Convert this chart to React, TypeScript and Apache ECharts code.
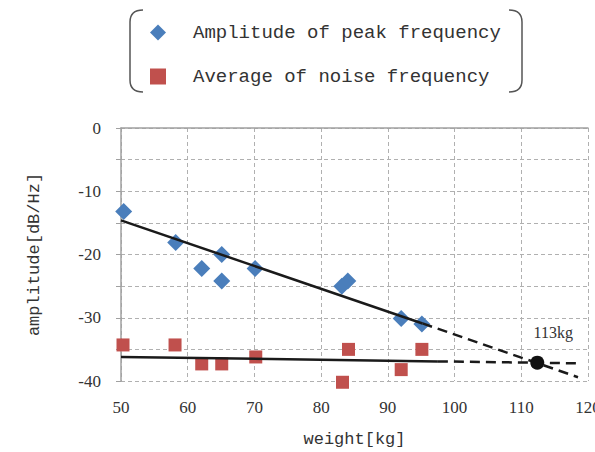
import React, { useEffect, useRef } from "react";
import * as echarts from "echarts";

const peakData: number[][] = [
  [50.4, -13.2], [58.2, -18.1], [62.1, -22.2], [65.1, -20.0], [65.1, -24.2],
  [70.1, -22.2], [83.1, -25.0], [84.0, -24.2], [92.0, -30.1], [95.1, -31.0],
];
const noiseData: number[][] = [
  [50.3, -34.3], [58.1, -34.3], [62.1, -37.3], [65.1, -37.3], [70.2, -36.2],
  [84.1, -35.0], [83.2, -40.2], [92.0, -38.2], [95.1, -35.0],
];
const peakTrendSolid: number[][] = [[50, -14.6], [95.2, -30.9]];
const peakTrendDashed: number[][] = [[95.2, -30.9], [118.5, -39.4]];
const noiseTrendSolid: number[][] = [[50, -36.2], [97.5, -36.9]];
const noiseTrendDashed: number[][] = [[97.5, -36.9], [118.4, -37.2]];
const crossPoint: number[][] = [[112.4, -37.1]];
const crossLabel = "113kg";
const seriesNames = ["Amplitude of peak frequency", "Average of noise frequency"];

echarts.graphic.registerShape(
  "brkL",
  echarts.graphic.extendPath("M13,0 Q0,0 0,12 L0,70 Q0,82 13,82", {})
);
echarts.graphic.registerShape(
  "brkR",
  echarts.graphic.extendPath("M0,0 Q13,0 13,12 L13,70 Q13,82 0,82", {})
);

export default function App() {
  const ref = useRef<HTMLDivElement>(null);
  useEffect(() => {
    document.body.style.margin = "0";
    const chart = echarts.init(ref.current!, null, { renderer: "svg" });
    const mono = "'Liberation Mono', 'Courier New', monospace";
    const serif = "'Liberation Serif', 'Times New Roman', serif";
    const trendStyle = { color: "#1a1a1a", width: 2.5 };
    chart.setOption({
      animation: false,
      backgroundColor: "#ffffff",
      grid: { left: 121, right: 7, top: 128, bottom: 71, outerBoundsMode: "none", containLabel: false },
      legend: {
        orient: "vertical",
        left: 145,
        top: 18,
        itemWidth: 16,
        itemHeight: 16,
        itemGap: 25,
        data: [
          { name: seriesNames[0], icon: "diamond" },
          { name: seriesNames[1], icon: "rect" },
        ],
        textStyle: {
          fontFamily: mono,
          fontSize: 19,
          color: "#333",
          padding: [0, 0, 0, 22],
        },
      },
      graphic: [
        { type: "brkL", x: 130, y: 10, style: { fill: "none", stroke: "#555", lineWidth: 1.5 } },
        { type: "brkR", x: 509, y: 10, style: { fill: "none", stroke: "#555", lineWidth: 1.5 } },
      ],
      xAxis: [
        {
          type: "value",
          min: 50,
          max: 120,
          interval: 10,
          name: "weight[kg]",
          nameLocation: "middle",
          nameGap: 50,
          nameTextStyle: { fontFamily: mono, fontSize: 17, color: "#333" },
          axisLine: { show: false },
          axisTick: { show: false },
          axisLabel: { fontFamily: serif, fontSize: 17, color: "#333", margin: 18 },
          splitLine: { show: true, lineStyle: { color: "#b0b0b0", type: [4, 3], width: 1 } },
        },
        {
          type: "value",
          position: "top",
          min: 50,
          max: 120,
          interval: 10,
          axisLine: { show: true, lineStyle: { color: "#a0a0a0", width: 1.5 } },
          axisTick: { show: false },
          axisLabel: { show: false },
          splitLine: { show: false },
        },
      ],
      yAxis: {
        type: "value",
        min: -40,
        max: 0,
        interval: 5,
        name: "amplitude[dB/Hz]",
        nameLocation: "middle",
        nameGap: 78,
        nameTextStyle: { fontFamily: mono, fontSize: 17, color: "#333" },
        axisLine: { show: true, onZero: false, lineStyle: { color: "#a0a0a0", width: 1.5 } },
        axisTick: { show: true, length: 5, lineStyle: { color: "#a0a0a0" } },
        axisLabel: {
          fontFamily: serif,
          fontSize: 17,
          color: "#333",
          margin: 20,
          formatter: (v: number) => (v % 10 === 0 ? String(v) : ""),
        },
        splitLine: { show: true, lineStyle: { color: "#b0b0b0", type: [4, 3], width: 1 } },
      },
      series: [
        {
          name: seriesNames[0],
          type: "scatter",
          symbol: "diamond",
          symbolSize: 17,
          itemStyle: { color: "#4A7EBB", opacity: 1 },
          data: peakData,
          clip: false,
          z: 3,
        },
        {
          name: seriesNames[1],
          type: "scatter",
          symbol: "rect",
          symbolSize: 13,
          itemStyle: { color: "#C0504D", opacity: 1 },
          data: noiseData,
          clip: false,
          z: 3,
        },
        { type: "line", data: peakTrendSolid, showSymbol: false, lineStyle: trendStyle, z: 4 },
        { type: "line", data: peakTrendDashed, showSymbol: false, lineStyle: { ...trendStyle, type: [10, 6] }, z: 4 },
        { type: "line", data: noiseTrendSolid, showSymbol: false, lineStyle: trendStyle, z: 4 },
        { type: "line", data: noiseTrendDashed, showSymbol: false, lineStyle: { ...trendStyle, type: [10, 6] }, z: 4 },
        {
          type: "scatter",
          data: crossPoint,
          symbol: "circle",
          symbolSize: 14,
          itemStyle: { color: "#111", opacity: 1 },
          z: 5,
          label: {
            show: true,
            position: "top",
            offset: [16, -10],
            formatter: () => crossLabel,
            fontFamily: serif,
            fontSize: 16,
            color: "#333",
          },
        },
      ],
    });
    return () => chart.dispose();
  }, []);
  return <div ref={ref} style={{ width: 595, height: 452 }} />;
}
